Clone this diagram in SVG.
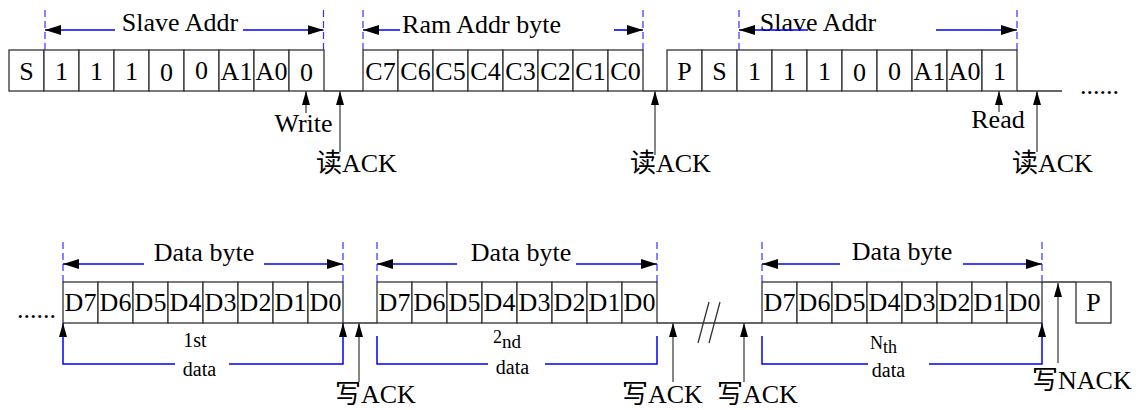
<svg xmlns="http://www.w3.org/2000/svg" width="1140" height="410" viewBox="0 0 1140 410">
<defs>
<marker id="dim" viewBox="0 0 16 10" refX="16" refY="5" markerWidth="16" markerHeight="10" markerUnits="userSpaceOnUse" orient="auto"><path d="M0,0 L16,5 L0,10 z" fill="#000"/></marker>
<marker id="ptr" viewBox="0 0 14 8" refX="14" refY="4" markerWidth="14" markerHeight="8" markerUnits="userSpaceOnUse" orient="auto"><path d="M0,0 L14,4 L0,8 z" fill="#000"/></marker>
<style>
.box{fill:#fff;stroke:#333;stroke-width:1.3}
.t{font-family:"Liberation Serif","Noto Sans CJK SC",serif;font-size:26px;fill:#000;text-anchor:middle}
.l{font-family:"Liberation Serif","Noto Sans CJK SC",serif;font-size:26px;fill:#000}
.s{font-family:"Liberation Serif",serif;font-size:20px;fill:#000;text-anchor:middle}
.base{fill:none;stroke:#333;stroke-width:1.3}
.dash{fill:none;stroke:#3333ff;stroke-width:1.2;stroke-dasharray:7,4}
.dim{fill:none;stroke:#0000ff;stroke-width:1.6;marker-end:url(#dim)}
.br{fill:none;stroke:#0000ff;stroke-width:1.5}
.brp{fill:none;stroke:#0000ff;stroke-width:1.5;marker-end:url(#ptr)}
.ptr{fill:none;stroke:#444;stroke-width:1.3;marker-end:url(#ptr)}
</style>
</defs>

<!-- Top row: first Slave Addr frame -->
<g id="frame-slave-addr-write">
<rect class="box" x="9" y="50" width="35" height="41"/><text class="t" x="26.5" y="80">S</text>
<rect class="box" x="44" y="50" width="35" height="41"/><text class="t" x="61.5" y="80">1</text>
<rect class="box" x="79" y="50" width="35" height="41"/><text class="t" x="96.5" y="80">1</text>
<rect class="box" x="114" y="50" width="35" height="41"/><text class="t" x="131.5" y="80">1</text>
<rect class="box" x="149" y="50" width="35" height="41"/><text class="t" x="166.5" y="81">0</text>
<rect class="box" x="184" y="50" width="35" height="41"/><text class="t" x="201.5" y="79">0</text>
<rect class="box" x="219" y="50" width="35" height="41"/><text class="t" x="236.5" y="80">A1</text>
<rect class="box" x="254" y="50" width="35" height="41"/><text class="t" x="271.5" y="80">A0</text>
<rect class="box" x="289" y="50" width="35" height="41"/><text class="t" x="306.5" y="81">0</text>
</g>

<g id="frame-ram-addr">
<rect class="box" x="363" y="50" width="35" height="41"/><text class="t" x="380.5" y="80">C7</text>
<rect class="box" x="398" y="50" width="35" height="41"/><text class="t" x="415.5" y="80">C6</text>
<rect class="box" x="433" y="50" width="35" height="41"/><text class="t" x="450.5" y="80">C5</text>
<rect class="box" x="468" y="50" width="35" height="41"/><text class="t" x="485.5" y="80">C4</text>
<rect class="box" x="503" y="50" width="35" height="41"/><text class="t" x="520.5" y="80">C3</text>
<rect class="box" x="538" y="50" width="35" height="41"/><text class="t" x="555.5" y="80">C2</text>
<rect class="box" x="573" y="50" width="35" height="41"/><text class="t" x="590.5" y="80">C1</text>
<rect class="box" x="608" y="50" width="35" height="41"/><text class="t" x="625.5" y="80">C0</text>
</g>

<g id="frame-slave-addr-read">
<rect class="box" x="667" y="50" width="35" height="41"/><text class="t" x="684.5" y="80">P</text>
<rect class="box" x="702" y="50" width="35" height="41"/><text class="t" x="719.5" y="80">S</text>
<rect class="box" x="737" y="50" width="35" height="41"/><text class="t" x="754.5" y="80">1</text>
<rect class="box" x="772" y="50" width="35" height="41"/><text class="t" x="789.5" y="80">1</text>
<rect class="box" x="807" y="50" width="35" height="41"/><text class="t" x="824.5" y="80">1</text>
<rect class="box" x="842" y="50" width="35" height="41"/><text class="t" x="859.5" y="81">0</text>
<rect class="box" x="877" y="50" width="35" height="41"/><text class="t" x="894.5" y="80">0</text>
<rect class="box" x="912" y="50" width="35" height="41"/><text class="t" x="929.5" y="80">A1</text>
<rect class="box" x="947" y="50" width="35" height="41"/><text class="t" x="964.5" y="80">A0</text>
<rect class="box" x="982" y="50" width="35" height="41"/><text class="t" x="999.5" y="80">1</text>
<text class="l" x="1080" y="94">......</text>
</g>

<!-- Bottom row data frames -->
<g id="frame-data-1">
<text class="l" x="17" y="318">......</text>
<rect class="box" x="63" y="282" width="35" height="41"/><text class="t" x="80.5" y="311">D7</text>
<rect class="box" x="98" y="282" width="35" height="41"/><text class="t" x="115.5" y="311">D6</text>
<rect class="box" x="133" y="282" width="35" height="41"/><text class="t" x="150.5" y="311">D5</text>
<rect class="box" x="168" y="282" width="35" height="41"/><text class="t" x="185.5" y="311">D4</text>
<rect class="box" x="203" y="282" width="35" height="41"/><text class="t" x="220.5" y="311">D3</text>
<rect class="box" x="238" y="282" width="35" height="41"/><text class="t" x="255.5" y="311">D2</text>
<rect class="box" x="273" y="282" width="35" height="41"/><text class="t" x="290.5" y="311">D1</text>
<rect class="box" x="308" y="282" width="35" height="41"/><text class="t" x="325.5" y="311">D0</text>
<text class="s" x="195" y="347">1st</text>
<text class="s" x="199.5" y="376">data</text>
</g>

<g id="frame-data-2">
<rect class="box" x="377" y="282" width="35" height="41"/><text class="t" x="394.5" y="311">D7</text>
<rect class="box" x="412" y="282" width="35" height="41"/><text class="t" x="429.5" y="311">D6</text>
<rect class="box" x="447" y="282" width="35" height="41"/><text class="t" x="464.5" y="311">D5</text>
<rect class="box" x="482" y="282" width="35" height="41"/><text class="t" x="499.5" y="311">D4</text>
<rect class="box" x="517" y="282" width="35" height="41"/><text class="t" x="534.5" y="311">D3</text>
<rect class="box" x="552" y="282" width="35" height="41"/><text class="t" x="569.5" y="311">D2</text>
<rect class="box" x="587" y="282" width="35" height="41"/><text class="t" x="604.5" y="311">D1</text>
<rect class="box" x="622" y="282" width="35" height="41"/><text class="t" x="639.5" y="311">D0</text>
<text class="l" x="493" y="343" style="font-size:18px">2</text>
<text class="l" x="502" y="348" style="font-size:19px">nd</text>
<text class="s" x="512.5" y="374">data</text>
</g>

<g id="frame-data-n">
<rect class="box" x="762" y="282" width="35" height="41"/><text class="t" x="779.5" y="311">D7</text>
<rect class="box" x="797" y="282" width="35" height="41"/><text class="t" x="814.5" y="311">D6</text>
<rect class="box" x="832" y="282" width="35" height="41"/><text class="t" x="849.5" y="311">D5</text>
<rect class="box" x="867" y="282" width="35" height="41"/><text class="t" x="884.5" y="311">D4</text>
<rect class="box" x="902" y="282" width="35" height="41"/><text class="t" x="919.5" y="311">D3</text>
<rect class="box" x="937" y="282" width="35" height="41"/><text class="t" x="954.5" y="311">D2</text>
<rect class="box" x="972" y="282" width="35" height="41"/><text class="t" x="989.5" y="311">D1</text>
<rect class="box" x="1007" y="282" width="35" height="41"/><text class="t" x="1024.5" y="311">D0</text>
<text class="l" x="870" y="349" style="font-size:18px">N</text>
<text class="l" x="883" y="353" style="font-size:18px">th</text>
<text class="s" x="888.5" y="377">data</text>
</g>

<g id="stop-p">
<rect class="box" x="1076" y="282" width="35" height="41"/><text class="t" x="1093.5" y="311">P</text>
</g>

<!-- Labels -->
<g id="labels">
<text class="t" x="180" y="31">Slave Addr</text>
<text class="t" x="481.5" y="33">Ram Addr byte</text>
<text class="t" x="818" y="31">Slave Addr</text>
<text class="t" x="204" y="261">Data byte</text>
<text class="t" x="521" y="261">Data byte</text>
<text class="t" x="902" y="260">Data byte</text>
<text class="t" x="303.5" y="132">Write</text>
<text class="t" x="998" y="128">Read</text>
<text class="l" x="316" y="172">读ACK</text>
<text class="l" x="630" y="172">读ACK</text>
<text class="l" x="1012" y="172">读ACK</text>
<text class="l" x="335" y="403">写ACK</text>
<text class="l" x="622" y="403">写ACK</text>
<text class="l" x="717" y="403">写ACK</text>
<text class="l" x="1032" y="389">写NACK</text>
</g>

<!-- Connectors -->
<g id="connectors">
<path class="base" d="M324,91 H363 M643,91 H667 M1017,91 H1062"/>
<path class="base" d="M343,323 H377 M657,323 H762 M1042,282 H1076"/>
<path class="base" d="M698,343 L709,302 M709,343 L720,302"/>

<path class="dash" d="M45,10 V50 M323.5,10 V50 M363,10 V50 M643,10 V50 M739,10 V50 M1017,10 V50"/>
<path class="dash" d="M63,242 V282 M343,242 V282 M377,242 V282 M657,242 V282 M762,242 V282 M1042,242 V282"/>

<path class="dim" d="M115,30 H45"/>
<path class="dim" d="M243,30 H323.5"/>
<path class="dim" d="M400,30 H363"/>
<path class="dim" d="M614,30 H643"/>
<path class="dim" d="M808,30 H739"/>
<path class="dim" d="M936,30 H1017"/>
<path class="dim" d="M144,264 H63"/>
<path class="dim" d="M264,264 H343"/>
<path class="dim" d="M457,264 H377"/>
<path class="dim" d="M576,264 H657"/>
<path class="dim" d="M840,264 H762"/>
<path class="dim" d="M963,264 H1042"/>

<path class="brp" d="M175,364 H63 V323"/>
<path class="brp" d="M229,364 H343 V323"/>
<path class="br" d="M377,336 V364 H488"/>
<path class="br" d="M545,364 H657 V336"/>
<path class="br" d="M762,336 V364 H868"/>
<path class="brp" d="M929,364 H1042 V323"/>

<path class="ptr" d="M306,113 V91"/>
<path class="ptr" d="M340,152 V91"/>
<path class="ptr" d="M655,155 V91"/>
<path class="ptr" d="M999,112 V91"/>
<path class="ptr" d="M1037,152 V91"/>
<path class="ptr" d="M359,382 V323"/>
<path class="ptr" d="M673,382 V323"/>
<path class="ptr" d="M744,382 V323"/>
<path class="ptr" d="M1058,363 V283"/>
</g>
</svg>
